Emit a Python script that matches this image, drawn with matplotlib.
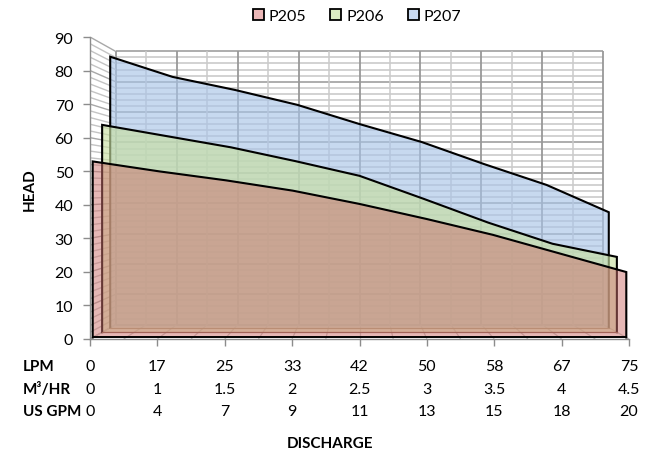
import matplotlib
matplotlib.use("Agg")
import matplotlib.pyplot as plt
from matplotlib.patches import Polygon, Patch
from matplotlib.transforms import blended_transform_factory
import numpy as np

plt.rcParams['font.family'] = ['Lato', 'DejaVu Sans']

# ---------------- data ----------------
series_names = ["P205", "P206", "P207"]
p205 = [53.0, 50.0, 47.3, 44.2, 40.2, 35.7, 30.9, 25.3, 19.7]
p206 = [64.7, 61.2, 57.7, 53.4, 48.8, 41.6, 34.2, 27.6, 23.5]
p207 = [87.3, 80.8, 76.6, 71.8, 65.6, 59.8, 52.7, 46.0, 37.2]
lpm = ["0", "17", "25", "33", "42", "50", "58", "67", "75"]
m3hr = ["0", "1", "1.5", "2", "2.5", "3", "3.5", "4", "4.5"]
usgpm = ["0", "4", "7", "9", "11", "13", "15", "18", "20"]
row_titles = ["LPM", "M³/HR", "US GPM"]
y_ticks = list(range(0, 100, 10))

# ---------------- style ----------------
W, H = 645, 456
fig = plt.figure(figsize=(W / 100, H / 100), dpi=100)
ax = fig.add_axes([90 / W, 1 - 340 / H, (629 - 90) / W, (340 - 38) / H])
n = len(lpm)
ax.set_xlim(0, n - 1)
ax.set_ylim(0, 90)

IC, VC = 4.0, 45.0      # perspective centre (in data units)
SB = 0.905              # scale of back wall


def proj(i, v, s):
    i = np.asarray(i, dtype=float)
    v = np.asarray(v, dtype=float)
    return IC + (i - IC) * s, VC + (v - VC) * s


def seg(p0, p1, s0, s1, **kw):
    x0, y0 = proj(p0[0], p0[1], s0)
    x1, y1 = proj(p1[0], p1[1], s1)
    ax.plot([x0, x1], [y0, y1], solid_capstyle='butt', **kw)


vmax = 90
xmax = n - 1
# back wall grid
for v in np.arange(0, vmax + 0.1, 2):
    major = (v % 10 == 0)
    seg((0, v), (xmax, v), SB, SB, color='#A0A0A0' if major else '#C6C6C6',
        lw=1.2 if major else 1.1, zorder=1)
for i in np.arange(0, xmax + 0.01, 0.5):
    major = (i % 1 == 0)
    seg((i, 0), (i, vmax), SB, SB, color='#989898' if major else '#CACACA',
        lw=1.3 if major else 1.1, zorder=1)
# side wall grid
for v in np.arange(0, vmax + 0.1, 2):
    major = (v % 10 == 0)
    seg((0, v), (0, v), 1.0, SB, color='#A8A8A8' if major else '#C4C4C4',
        lw=1.0, zorder=1)
# floor grid
for i in np.arange(0, xmax + 0.01, 0.5):
    seg((i, 0), (i, 0), 1.0, SB, color='#C0C0C0', lw=0.9, zorder=1)

colors = {"P205": (205 / 255, 112 / 255, 108 / 255),
          "P206": (200 / 255, 224 / 255, 161 / 255),
          "P207": (169 / 255, 196 / 255, 232 / 255)}
alphas = {"P205": 0.29, "P206": 0.40, "P207": 0.40}
depth = {"P205": (0.99, 0.96), "P206": (0.955, 0.93), "P207": (0.925, 0.908)}
legend_colors = {"P205": "#EBB7B7", "P206": "#DCEBC3", "P207": "#C8D9F0"}
values = {"P205": p205, "P206": p206, "P207": p207}


def poly(pts_i, pts_v, s_list, color, alpha, z):
    xs, ys = [], []
    for i, v, s in zip(pts_i, pts_v, s_list):
        x, y = proj(i, v, s)
        xs.append(float(x))
        ys.append(float(y))
    ax.add_patch(Polygon(np.c_[xs, ys], closed=True, fc=color, alpha=alpha,
                         ec='none', zorder=z))


def slab(name, z):
    vals = np.asarray(values[name], dtype=float)
    sf, sb = depth[name]
    c, a = colors[name], alphas[name]
    xs = np.arange(len(vals))
    # back face
    poly(list(xs) + list(xs[::-1]), list(vals) + [0] * len(vals),
         [sb] * (2 * len(vals)), c, a, z)
    # bottom
    poly([0, xmax, xmax, 0], [0, 0, 0, 0], [sf, sf, sb, sb], c, a, z + 0.1)
    # ends
    poly([0, 0, 0, 0], [0, vals[0], vals[0], 0], [sf, sf, sb, sb], c, a, z + 0.1)
    poly([xmax] * 4, [0, vals[-1], vals[-1], 0], [sf, sf, sb, sb], c, a, z + 0.1)
    # top strips
    for k in range(len(vals) - 1):
        poly([k, k + 1, k + 1, k], [vals[k], vals[k + 1], vals[k + 1], vals[k]],
             [sf, sf, sb, sb], c, a, z + 0.1)
    # front face
    poly(list(xs) + list(xs[::-1]), list(vals) + [0] * len(vals),
         [sf] * (2 * len(vals)), c, a, z + 0.2)
    # outline of front face
    ox, oy = proj(np.r_[0, xs, xmax], np.r_[0, vals, 0], sf)
    ax.plot(ox, oy, color='black', lw=1.5, zorder=z + 0.3, solid_joinstyle='miter')
    bx, by = proj([0, xmax], [0, 0], sf)
    ax.plot(bx, by, color='black' if name == "P205" else '#7A5A48',
            lw=1.4 if name == "P205" else 0.9, zorder=z + 0.3)


slab("P207", 2)
slab("P206", 3)
slab("P205", 4)

# axes styling
for sp in ['top', 'right']:
    ax.spines[sp].set_visible(False)
for sp in ['left', 'bottom']:
    ax.spines[sp].set_color('#8C8C8C')
    ax.spines[sp].set_linewidth(1.0)
    ax.spines[sp].set_zorder(6)
ax.set_yticks(y_ticks)
ax.set_yticklabels([str(t) for t in y_ticks])
ax.set_xticks(range(n))
ax.set_xticklabels([])
ax.tick_params(axis='y', direction='out', length=5, width=1, color='#8C8C8C',
               labelsize=11.5, pad=7)
ax.tick_params(axis='x', direction='out', length=5, width=1, color='#8C8C8C')
ax.set_facecolor('none')

# table below
tr = blended_transform_factory(ax.transData, fig.transFigure)
rows = [lpm, m3hr, usgpm]
row_y = [367, 390, 412]
for title, labels, yp in zip(row_titles, rows, row_y):
    fig.text(23 / W, 1 - yp / H, title, ha='left', va='center',
             fontsize=11, fontweight='bold')
    for i, lab in enumerate(labels):
        ax.text(i, 1 - yp / H, lab, transform=tr, ha='center', va='center',
                fontsize=11.5, clip_on=False)

fig.text(330 / W, 1 - 444 / H, "DISCHARGE", ha='center', va='center',
         fontsize=11, fontweight='bold')
fig.text(30 / W, 1 - 190 / H, "HEAD", ha='center', va='center',
         fontsize=11, fontweight='bold', rotation=90)

handles = [Patch(fc=legend_colors[s], ec='black', lw=1.3, label=s)
           for s in series_names]
fig.legend(handles=handles, loc='center', bbox_to_anchor=(357 / W, 1 - 17 / H),
           ncol=3, frameon=False, handlelength=0.7, handleheight=0.7,
           handletextpad=0.3, columnspacing=1.5, fontsize=11.5)

fig.savefig("out.png", dpi=100)
